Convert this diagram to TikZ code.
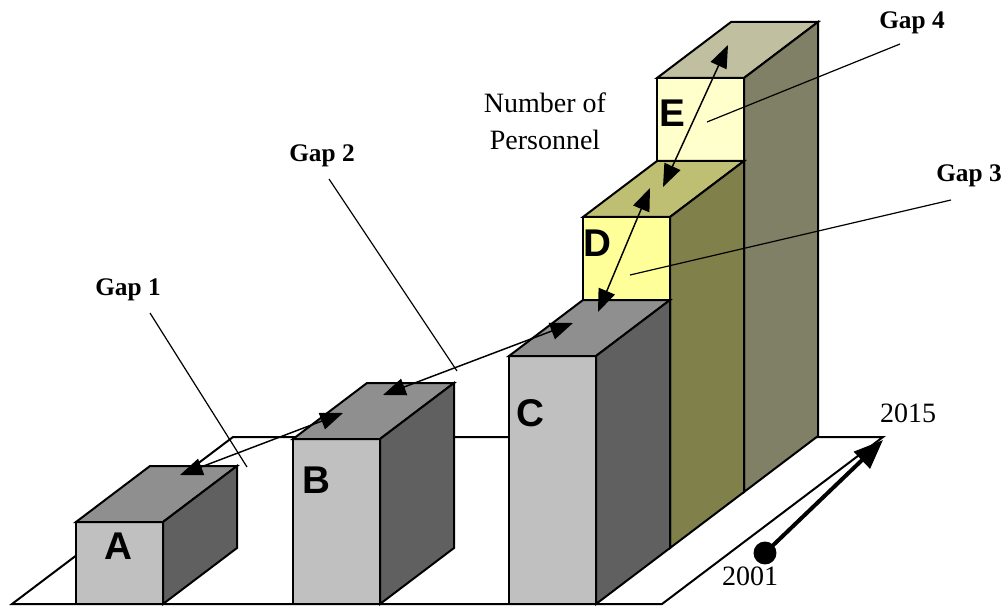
\documentclass[tikz,border=0pt]{standalone}
\usepackage{fontspec}
\setmainfont{Liberation Serif}
\newfontfamily\arialfont{Liberation Sans}
\usetikzlibrary{arrows.meta}
\definecolor{colFront}{RGB}{192,192,192}
\definecolor{colTop}{RGB}{143,143,143}
\definecolor{colSide}{RGB}{96,96,96}
\definecolor{colDFront}{RGB}{255,255,153}
\definecolor{colDTop}{RGB}{191,191,115}
\definecolor{colDSide}{RGB}{128,128,74}
\definecolor{colEFront}{RGB}{255,255,204}
\definecolor{colETop}{RGB}{192,192,160}
\definecolor{colESide}{RGB}{128,128,102}
\tikzset{
    barline/.style={draw=black, line width=1.5pt},
    barletter/.style={font=\arialfont\bfseries\fontsize{29}{30}\selectfont, inner sep=0pt},
    gaplabel/.style={font=\bfseries\fontsize{19}{20}\selectfont, inner sep=0pt},
    yearlabel/.style={font=\fontsize{21}{22}\selectfont, inner sep=0pt},
    leader/.style={line width=0.9pt},
    gaparrow/.style={{Triangle[length=17pt,width=13pt]}-{Triangle[length=17pt,width=13pt]}, line width=1.1pt},
    timearrow/.style={-{Triangle[length=22pt,width=17pt]}, line width=3pt}
}
\newcommand{\drawbar}[6]{%
    \filldraw[barline, fill=#4] (#1,#2) rectangle ++(87,-#3);
    \filldraw[barline, fill=#5] (#1,#2-#3) -- ++(74,-56) -- ++(87,0) -- ++(-74,56) -- cycle;
    \filldraw[barline, fill=#6] (#1+87,#2) -- ++(0,-#3) -- ++(74,-56) -- ++(0,#3) -- cycle;
}
\begin{document}
\begin{tikzpicture}[x=0.75pt, y=-0.75pt]
    \useasboundingbox (0,0) rectangle (1007,606);
    \filldraw[barline, fill=white] (12,604) -- (233,437) -- (883,437) -- (662,604) -- cycle;

    \drawbar{657}{492}{414}{colEFront}{colETop}{colESide}
    \drawbar{583}{548}{331}{colDFront}{colDTop}{colDSide}
    \drawbar{509}{604}{248}{colFront}{colTop}{colSide}
    \drawbar{293}{604}{165}{colFront}{colTop}{colSide}
    \drawbar{76}{604}{82}{colFront}{colTop}{colSide}

    \node[barletter] (la) at (118,546) {A};
    \node[barletter] (lb) at (316,480) {B};
    \node[barletter] (lc) at (530,413) {C};
    \node[barletter] (ld) at (597,243) {D};
    \node[barletter] (le) at (672,113) {E};

    \coordinate (g1a) at (180,475);
    \coordinate (g1b) at (343,413);
    \coordinate (g2a) at (383,395);
    \coordinate (g2b) at (573,323);
    \coordinate (g3a) at (598,312);
    \coordinate (g3b) at (650,188);
    \coordinate (g4a) at (663,187);
    \coordinate (g4b) at (728,45);
    \draw[gaparrow] (g1a) -- (g1b);
    \draw[gaparrow] (g2a) -- (g2b);
    \draw[gaparrow] (g3a) -- (g3b);
    \draw[gaparrow] (g4a) -- (g4b);

    \node[gaplabel] (gap1) at (128,290) {Gap 1};
    \node[gaplabel] (gap2) at (322,156) {Gap 2};
    \node[gaplabel] (gap3) at (969,176) {Gap 3};
    \node[gaplabel] (gap4) at (912,23) {Gap 4};
    \coordinate (gap1s) at (150,313);
    \coordinate (gap1e) at (247,467);
    \coordinate (gap2s) at (329,179);
    \coordinate (gap2e) at (457,371);
    \coordinate (gap3s) at (951,200);
    \coordinate (gap3e) at (630,275);
    \coordinate (gap4s) at (900,44);
    \coordinate (gap4e) at (707,122);
    \draw[leader] (gap1s) -- (gap1e);
    \draw[leader] (gap2s) -- (gap2e);
    \draw[leader] (gap3s) -- (gap3e);
    \draw[leader] (gap4s) -- (gap4e);

    \node[yearlabel, align=center] (personnel) at (545,121) {Number of\\[6pt]Personnel};

    \node[yearlabel] (y2015) at (908,413) {2015};
    \node[yearlabel] (y2001) at (750,576) {2001};
    \fill (765,553) circle (8.6pt) coordinate (start);
    \coordinate (stop) at (883,440);
    \draw[timearrow] (start) -- (stop);
\end{tikzpicture}
\end{document}
